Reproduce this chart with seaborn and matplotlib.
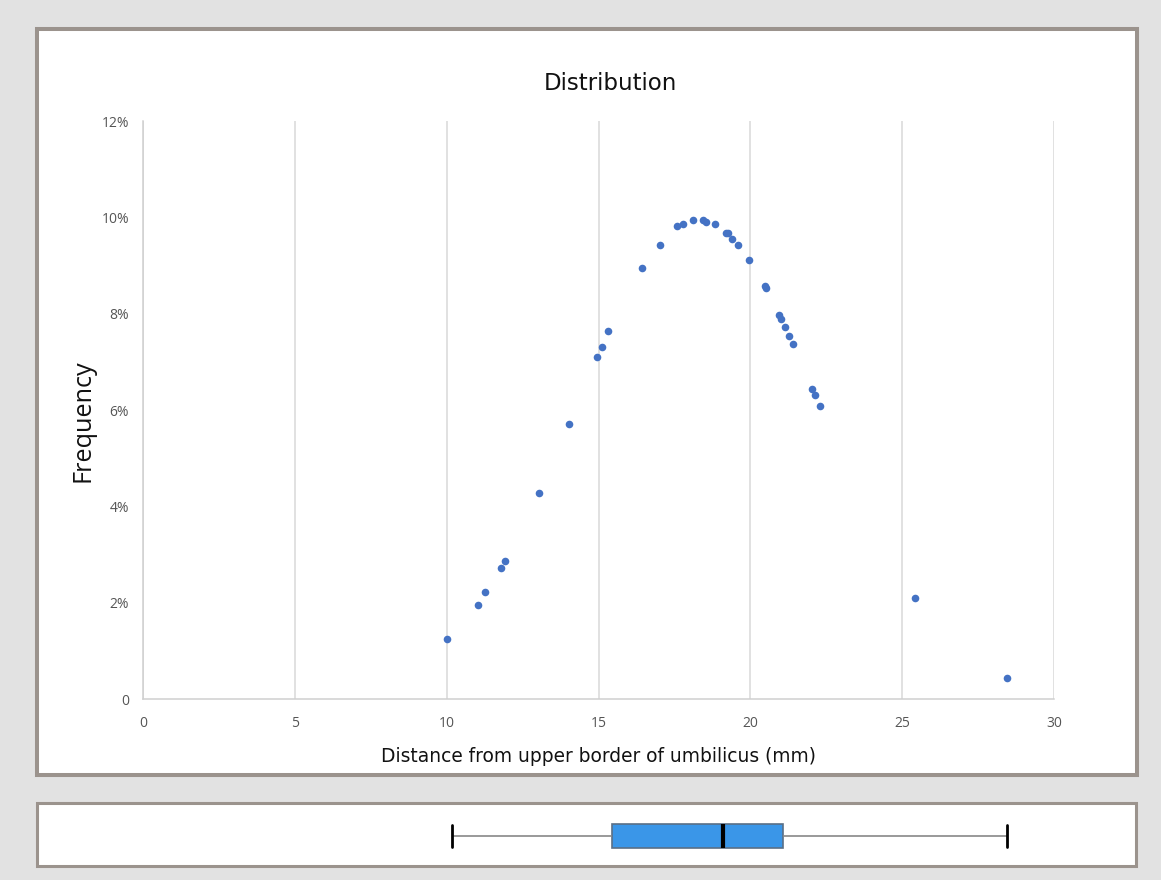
import matplotlib
matplotlib.use("Agg")
import matplotlib.pyplot as plt
import seaborn as sns
from matplotlib.patches import Rectangle
from matplotlib.ticker import FuncFormatter

# distance from upper border of umbilicus (mm) and frequency (%)
distance = [10.01, 11.02, 11.27, 11.78, 11.91, 13.04, 14.02, 14.95, 15.12, 15.32,
            16.42, 17.02, 17.59, 17.77, 18.11, 18.45, 18.54, 18.83, 19.20, 19.25,
            19.39, 19.59, 19.97, 20.47, 20.52, 20.93, 21.02, 21.15, 21.27, 21.41,
            22.04, 22.12, 22.28, 25.41, 28.45]
frequency = [1.24, 1.96, 2.22, 2.73, 2.86, 4.27, 5.71, 7.09, 7.30, 7.63,
             8.95, 9.43, 9.81, 9.86, 9.94, 9.94, 9.91, 9.86, 9.67, 9.67,
             9.56, 9.43, 9.11, 8.58, 8.53, 7.98, 7.89, 7.72, 7.53, 7.38,
             6.43, 6.31, 6.08, 2.09, 0.44]

# box summary: min, Q1, median, Q3, max
box_stats = [10.0, 15.3, 19.0, 21.0, 28.45]

x_ticks = [0, 5, 10, 15, 20, 25, 30]
y_ticks = [0, 2, 4, 6, 8, 10, 12]

sns.set_style("white")
plt.rcParams["font.family"] = ["DejaVu Sans"]

W, H = 1161, 880
fig = plt.figure(figsize=(W / 100, H / 100), dpi=100)
fig.patch.set_facecolor("#e2e2e2")

border = "#9b938d"
# panel frames
fig.patches.append(Rectangle((37 / W, 1 - 775 / H), 1100 / W, 746 / H,
                             transform=fig.transFigure, facecolor="white",
                             edgecolor=border, linewidth=2.9, zorder=-5))
fig.patches.append(Rectangle((36.5 / W, 1 - 865.5 / H), 1099 / W, 63 / H,
                             transform=fig.transFigure, facecolor="white",
                             edgecolor=border, linewidth=2.2, zorder=-5))

# scatter panel
ax = fig.add_axes([143 / W, 1 - 699 / H, 911 / W, 578 / H])
ax.set_facecolor("none")
sns.scatterplot(x=distance, y=frequency, ax=ax, color="#4472c4", s=30,
                linewidth=0, zorder=3)
ax.set_xlim(0, 30)
ax.set_ylim(0, 12)
ax.set_xticks(x_ticks)
ax.set_yticks(y_ticks)
ax.yaxis.set_major_formatter(FuncFormatter(lambda v, p: "0" if v == 0 else f"{v:.0f}%"))
ax.xaxis.grid(True, color="#d9d9d9", linewidth=1.1)
ax.yaxis.grid(False)
for s in ["top", "right"]:
    ax.spines[s].set_visible(False)
for s in ["left", "bottom"]:
    ax.spines[s].set_color("#d0d0d0")
    ax.spines[s].set_linewidth(1.1)
ax.tick_params(axis="both", length=0, labelsize=10, labelcolor="#555555")
ax.tick_params(axis="x", pad=12)
ax.tick_params(axis="y", pad=10)
for lab in ax.get_xticklabels() + ax.get_yticklabels():
    lab.set_family(["Open Sans", "DejaVu Sans"])

ax.set_title("Distribution", fontsize=16.5, color="#111111", pad=22.5, x=0.513)
ax.set_xlabel("Distance from upper border of umbilicus (mm)", fontsize=13.4,
              color="#111111", labelpad=11.5)
ax.set_ylabel("Frequency", fontsize=18.2, color="#111111",
              family=["Open Sans", "DejaVu Sans"])
ax.yaxis.set_label_coords(-0.052, 0.481)

# box plot panel
bx = fig.add_axes([151 / W, 1 - 860 / H, 903 / W, 48 / H])
bx.set_facecolor("none")
sns.boxplot(x=box_stats, ax=bx, orient="h", whis=(0, 100), width=0.5,
            color="#3a96e8", linewidth=1.2,
            boxprops=dict(facecolor="#3a96e8", edgecolor="#5a6f86"),
            medianprops=dict(color="black", linewidth=3),
            whiskerprops=dict(color="#888888", linewidth=1.2),
            capprops=dict(color="black", linewidth=2))
bx.set_xlim(0, 30)
bx.set_ylim(0.5, -0.5)
# make caps as tall as the box
for line in bx.lines:
    xd = line.get_xdata()
    if len(xd) == 2 and xd[0] == xd[1] and line.get_color() == "black" and line.get_linewidth() == 2:
        line.set_ydata([-0.23, 0.23])
bx.axis("off")

fig.savefig("out.png", dpi=100, facecolor=fig.get_facecolor())
